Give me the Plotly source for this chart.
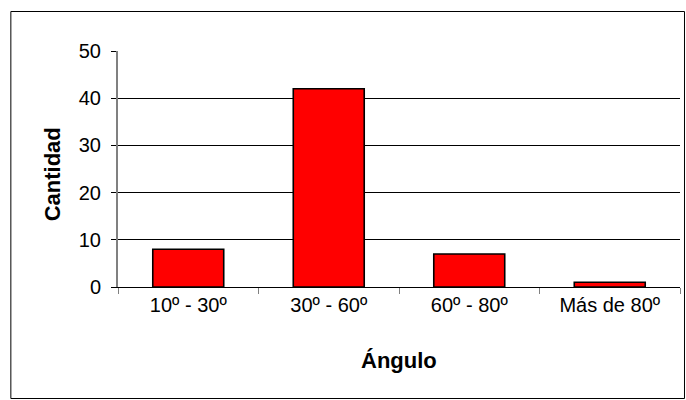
import plotly.graph_objects as go

categories = ["10º - 30º", "30º - 60º", "60º - 80º", "Más de 80º"]
cantidad = [8, 42, 7, 1]
y_ticks = [0, 10, 20, 30, 40, 50]

W, H = 686, 400
# plot area in pixels
L, R, T, B = 117.7, 680.0, 51.0, 287.0


def px_x(p):
    return (p - L) / (R - L)


def px_y(p):
    return (B - p) / (B - T)


FONT = "Arial, Liberation Sans, sans-serif"

fig = go.Figure()
fig.add_trace(go.Bar(
    x=categories, y=cantidad,
    marker=dict(color="#FF0000", line=dict(color="#000000", width=1.6)),
    hoverinfo="x+y",
))

fig.update_layout(
    width=W, height=H,
    margin=dict(l=L, r=W - R, t=T, b=H - B, pad=0),
    paper_bgcolor="white", plot_bgcolor="white",
    bargap=0.495,
    showlegend=False,
    font=dict(family=FONT, color="black"),
    xaxis=dict(
        type="category",
        showline=True, linecolor="black", linewidth=1,
        ticks="outside", tickson="boundaries", ticklen=6, tickcolor="#808080",
        tickwidth=1,
        showgrid=False, zeroline=False,
        tickfont=dict(size=20, family=FONT, color="black"),
    ),
    yaxis=dict(
        range=[0, 50], tickvals=y_ticks, ticktext=[str(v) for v in y_ticks],
        showline=True, linecolor="#808080", linewidth=2,
        ticks="outside", ticklen=5, tickcolor="black", tickwidth=1,
        showgrid=True, gridcolor="black", gridwidth=1,
        zeroline=False,
        tickfont=dict(size=20, family=FONT, color="black"),
        ticklabelstandoff=6,
    ),
    annotations=[
        dict(text="<b>Cantidad</b>", xref="paper", yref="paper",
             x=px_x(52), y=px_y(174), textangle=-90, showarrow=False,
             xanchor="center", yanchor="middle",
             font=dict(size=22, family=FONT, color="black")),
        dict(text="<b>Ángulo</b>", xref="paper", yref="paper",
             x=0.5, y=px_y(360), showarrow=False,
             xanchor="center", yanchor="middle",
             font=dict(size=22, family=FONT, color="black")),
    ],
    shapes=[
        dict(type="rect", xref="paper", yref="paper",
             x0=px_x(10.5), x1=px_x(684.5), y0=px_y(398.5), y1=px_y(11.5),
             line=dict(color="black", width=1), fillcolor="rgba(0,0,0,0)",
             layer="below"),
    ],
)

fig.write_html(
    "out.html",
    config={"displayModeBar": False},
    post_script=(
        "document.body.style.margin='0';"
        "document.documentElement.style.overflow='hidden';"
        "document.body.style.overflow='hidden';"
    ),
)
